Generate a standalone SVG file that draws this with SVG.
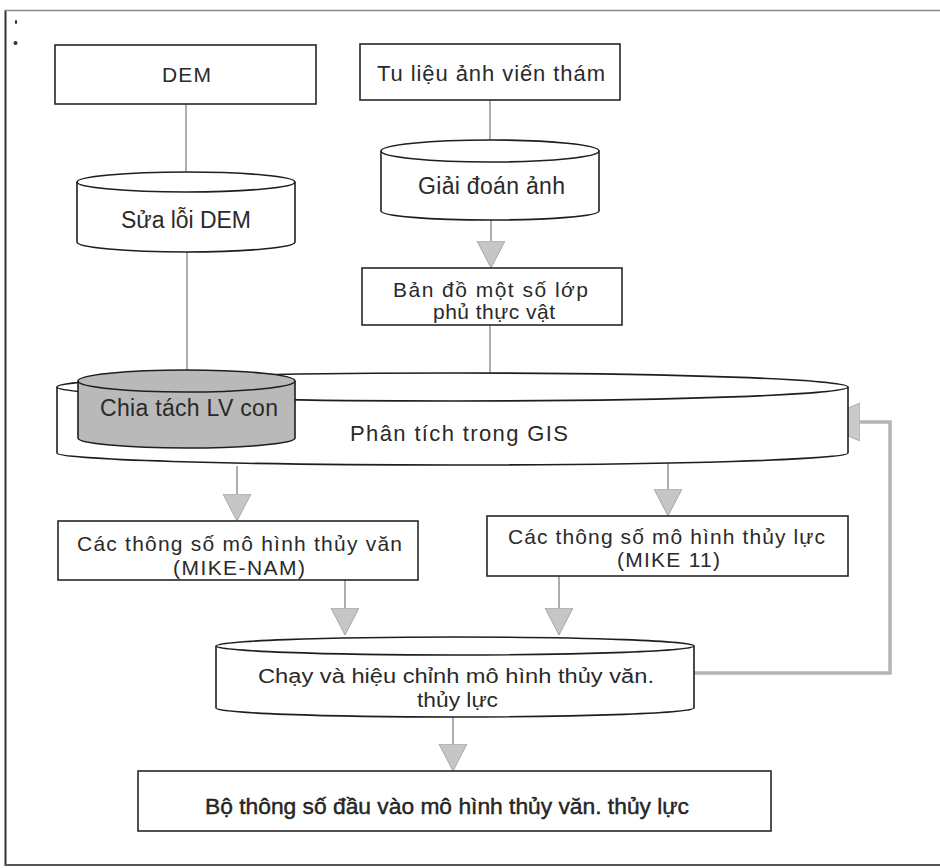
<svg xmlns="http://www.w3.org/2000/svg" width="940" height="868" viewBox="0 0 940 868">
<defs>
<style>
.box{fill:#fff;stroke:#262626;stroke-width:1.6}
.cyl{fill:#fff;stroke:#1e1e1e;stroke-width:1.6}
.cylg{fill:#b9b9b9;stroke:#1e1e1e;stroke-width:1.6}
.lid{fill:none;stroke:#1e1e1e;stroke-width:1.6}
.t{font-family:"Liberation Sans",Arial,sans-serif;fill:#2a2a2a;text-anchor:middle}
.ln{fill:none;stroke:#9a9a9a;stroke-width:1.6}
.fb{fill:none;stroke:#b4b4b4;stroke-width:3.5}
</style>
<marker id="ah" markerUnits="userSpaceOnUse" markerWidth="28" markerHeight="30" refX="27" refY="14" orient="auto" viewBox="0 0 28 30">
<path d="M0,0 L27,14 L0,28 Z" fill="#c6c6c6" stroke="#a8a8a8" stroke-width="1"/>
</marker>
<marker id="ahb" markerUnits="userSpaceOnUse" markerWidth="46" markerHeight="40" refX="45" refY="19" orient="auto" viewBox="0 0 46 40">
<path d="M0,0 L45,19 L0,38 Z" fill="#cacaca" stroke="#ababab" stroke-width="1"/>
</marker>
</defs>
<rect x="0" y="0" width="940" height="868" fill="#fff"/>
<g id="frame">
<line x1="5.5" y1="10" x2="5.5" y2="866" stroke="#333" stroke-width="2"/>
<line x1="5" y1="10.5" x2="940" y2="10.5" stroke="#8a8a8a" stroke-width="1.5"/>
<line x1="5" y1="865" x2="940" y2="865" stroke="#555" stroke-width="2"/>
<ellipse cx="16" cy="22" rx="1.2" ry="2" fill="#333"/>
<circle cx="15.5" cy="43" r="2" fill="#333"/>
</g>
<g id="connectors">
<line class="ln" x1="186" y1="104" x2="186" y2="172"/>
<line class="ln" x1="187" y1="252" x2="187" y2="370"/>
<line class="ln" x1="490" y1="100" x2="490" y2="140"/>
<line class="ln" x1="491" y1="220" x2="491" y2="268" marker-end="url(#ah)"/>
<line class="ln" x1="490" y1="325" x2="490" y2="374"/>
<line class="ln" x1="237" y1="466" x2="237" y2="521" marker-end="url(#ah)"/>
<line class="ln" x1="668" y1="463" x2="668" y2="516" marker-end="url(#ah)"/>
<line class="ln" x1="345" y1="580" x2="345" y2="635" marker-end="url(#ah)"/>
<line class="ln" x1="559" y1="576" x2="559" y2="635" marker-end="url(#ah)"/>
<line class="ln" x1="453" y1="717" x2="453" y2="771" marker-end="url(#ah)"/>
<polyline class="fb" points="694,673 890,673 890,422 815,422" marker-end="url(#ahb)"/>
</g>
<g id="n-dem">
<rect class="box" x="55" y="45" width="261" height="59"/>
<text class="t" x="186.5" y="82" font-size="21" textLength="49" lengthAdjust="spacing">DEM</text>
</g>
<g id="n-tulieu">
<rect class="box" x="360" y="44" width="260" height="56"/>
<text class="t" x="491" y="81" font-size="22" textLength="228" lengthAdjust="spacing">Tu liệu ảnh viến thám</text>
</g>
<g id="n-sualoi">
<path class="cyl" d="M77,182 L77,242 A109,10 0 0 0 295,242 L295,182 A109,10 0 0 0 77,182 Z"/>
<path class="lid" d="M77,182 A109,10 0 0 0 295,182"/>
<text class="t" x="186" y="228" font-size="23" textLength="130" lengthAdjust="spacing">Sửa lỗi DEM</text>
</g>
<g id="n-giaidoan">
<path class="cyl" d="M381,151 L381,211 A109,9 0 0 0 599,211 L599,151 A109,11 0 0 0 381,151 Z"/>
<path class="lid" d="M381,151 A109,11 0 0 0 599,151"/>
<text class="t" x="491.5" y="194" font-size="23" textLength="147" lengthAdjust="spacing">Giải đoán ảnh</text>
</g>
<g id="n-bando">
<rect class="box" x="362" y="268" width="260" height="57"/>
<text class="t" x="490.5" y="297" font-size="21" textLength="195" lengthAdjust="spacing">Bản đồ một số lớp</text>
<text class="t" x="494" y="319" font-size="21" textLength="122" lengthAdjust="spacing">phủ thực vật</text>
</g>
<g id="n-gis">
<path class="cyl" d="M57,387 L57,453 A395.5,12 0 0 0 848,453 L848,387 A395.5,14 0 0 0 57,387 Z"/>
<path class="lid" d="M57,387 A395.5,14 0 0 0 848,387"/>
<text class="t" x="459" y="441" font-size="22" textLength="218" lengthAdjust="spacing">Phân tích trong GIS</text>
</g>
<g id="n-chiatach">
<path class="cylg" d="M78,381 L78,438 A108.5,10 0 0 0 295,438 L295,381 A108.5,11 0 0 0 78,381 Z"/>
<path class="lid" d="M78,381 A108.5,11 0 0 0 295,381"/>
<text class="t" x="189" y="416" font-size="23" fill="#222" textLength="178" lengthAdjust="spacing">Chia tách LV con</text>
</g>
<g id="n-mikenam">
<rect class="box" x="58" y="521" width="360" height="59"/>
<text class="t" x="239.5" y="551" font-size="21" textLength="325" lengthAdjust="spacing">Các thông số mô hình thủy văn</text>
<text class="t" x="239" y="575" font-size="21" textLength="132" lengthAdjust="spacing">(MIKE-NAM)</text>
</g>
<g id="n-mike11">
<rect class="box" x="487" y="516" width="361" height="60"/>
<text class="t" x="666.5" y="544" font-size="21" textLength="317" lengthAdjust="spacing">Các thông số mô hình thủy lực</text>
<text class="t" x="668.5" y="567" font-size="21" textLength="103" lengthAdjust="spacing">(MIKE 11)</text>
</g>
<g id="n-chay">
<path class="cyl" d="M216,646 L216,708 A239,9 0 0 0 694,708 L694,646 A239,9 0 0 0 216,646 Z"/>
<path class="lid" d="M216,646 A239,9 0 0 0 694,646"/>
<text class="t" x="456" y="683" font-size="20" fill="#1e1e1e" textLength="396" lengthAdjust="spacingAndGlyphs">Chạy và hiệu chỉnh mô hình thủy văn.</text>
<text class="t" x="457.5" y="707" font-size="20" fill="#1e1e1e" textLength="81" lengthAdjust="spacingAndGlyphs">thủy lực</text>
</g>
<g id="n-boths">
<rect class="box" x="138" y="771" width="633" height="60" stroke-width="2.4"/>
<text class="t" x="447" y="814" font-size="22" fill="#111" stroke="#111" stroke-width="0.4" textLength="484" lengthAdjust="spacingAndGlyphs">Bộ thông số đầu vào mô hình thủy văn. thủy lực</text>
</g>
</svg>
